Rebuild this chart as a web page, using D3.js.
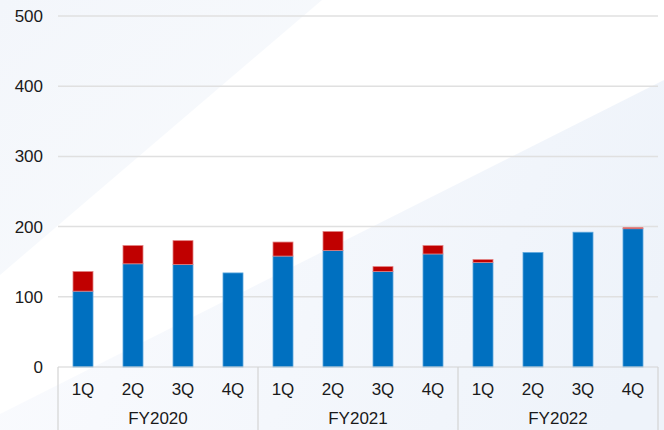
<!DOCTYPE html>
<html>
<head>
<meta charset="utf-8">
<script src="https://cdn.jsdelivr.net/npm/d3@7"></script>
<style>
  body { margin: 0; background: #fff; }
  svg { display: block; font-family: "Liberation Sans", Arial, sans-serif; }
</style>
</head>
<body>
<div id="chart"></div>
<script>
// chart values
const years = ["FY2020", "FY2021", "FY2022"];
const quarters = ["1Q", "2Q", "3Q", "4Q"];
const base = [108, 147, 146, 134, 158, 166, 136, 161, 149, 163, 192, 197];
const extra = [28, 26, 34, 0, 20, 27, 7, 12, 4, 0, 0, 1.5];
const yTicks = [0, 100, 200, 300, 400, 500];

const width = 664, height = 430;
const margin = {left: 58, right: 6, top: 16, bottom: 63};

const svg = d3.select("#chart").append("svg")
  .attr("width", width)
  .attr("height", height);

// soft background shading
const defs = svg.append("defs");
const g1 = defs.append("linearGradient").attr("id", "bgTL")
  .attr("x1", "0").attr("y1", "0").attr("x2", "1").attr("y2", "1");
g1.append("stop").attr("offset", "0").attr("stop-color", "#f3f6fb");
g1.append("stop").attr("offset", "1").attr("stop-color", "#f9fbfd");
const g2 = defs.append("linearGradient").attr("id", "bgBR")
  .attr("x1", "1").attr("y1", "0.6").attr("x2", "0").attr("y2", "0.4");
g2.append("stop").attr("offset", "0").attr("stop-color", "#eef3fa");
g2.append("stop").attr("offset", "1").attr("stop-color", "#fafbfe");

svg.append("path").attr("d", "M0,0 L322,0 L0,275 Z").attr("fill", "url(#bgTL)");
svg.append("path").attr("d", "M664,80 L664,430 L0,430 L0,414 Z").attr("fill", "url(#bgBR)");

const labels = d3.range(base.length);
const x = d3.scaleBand()
  .domain(labels)
  .range([margin.left, width - margin.right])
  .paddingInner(0.6)
  .paddingOuter(0.3);

const y = d3.scaleLinear()
  .domain([0, 500])
  .range([height - margin.bottom, margin.top]);

// gridlines
svg.append("g")
  .selectAll("line")
  .data(yTicks.slice(1))
  .join("line")
  .attr("x1", margin.left)
  .attr("x2", width - margin.right)
  .attr("y1", d => y(d))
  .attr("y2", d => y(d))
  .attr("stroke", "#e0e0e0")
  .attr("stroke-width", 1.5);

// y axis labels
const yAxis = svg.append("g")
  .attr("transform", `translate(${margin.left},0)`)
  .call(d3.axisLeft(y).tickValues(yTicks).tickSize(0).tickPadding(15));
yAxis.select(".domain").remove();
yAxis.selectAll("text")
  .attr("font-size", "17px")
  .attr("font-family", "Liberation Sans, Arial, sans-serif")
  .attr("fill", "#1a1a1a");

// stacked bars
const bars = svg.append("g");
bars.selectAll(".base")
  .data(base)
  .join("rect")
  .attr("class", "base")
  .attr("x", (d, i) => x(i))
  .attr("width", x.bandwidth())
  .attr("y", d => y(d))
  .attr("height", d => y(0) - y(d))
  .attr("fill", "#0070c0")
  .attr("stroke", "#5aa6dc")
  .attr("stroke-width", 0.8);

bars.selectAll(".extra")
  .data(extra)
  .join("rect")
  .attr("class", "extra")
  .attr("x", (d, i) => x(i))
  .attr("width", x.bandwidth())
  .attr("y", (d, i) => y(base[i] + d))
  .attr("height", d => y(0) - y(d))
  .attr("fill", "#c00000")
  .attr("stroke", d => d > 0 ? "#e28080" : "none")
  .attr("stroke-width", 0.8);

// category axis
const y0 = y(0);
svg.append("line")
  .attr("x1", margin.left).attr("x2", width - margin.right)
  .attr("y1", y0).attr("y2", y0)
  .attr("stroke", "#d4d4d4").attr("stroke-width", 1.2);

const groupW = (width - margin.left - margin.right) / years.length;
svg.append("g")
  .selectAll("line")
  .data(d3.range(years.length + 1))
  .join("line")
  .attr("x1", d => margin.left + d * groupW)
  .attr("x2", d => margin.left + d * groupW)
  .attr("y1", y0)
  .attr("y2", height)
  .attr("stroke", "#d4d4d4")
  .attr("stroke-width", 1.2);

svg.append("g")
  .selectAll("text")
  .data(labels)
  .join("text")
  .attr("x", i => x(i) + x.bandwidth() / 2)
  .attr("y", y0 + 28)
  .attr("text-anchor", "middle")
  .attr("font-size", "17px")
  .attr("fill", "#1a1a1a")
  .text(i => quarters[i % quarters.length]);

svg.append("g")
  .selectAll("text")
  .data(years)
  .join("text")
  .attr("x", (d, i) => margin.left + (i + 0.5) * groupW)
  .attr("y", y0 + 57)
  .attr("text-anchor", "middle")
  .attr("font-size", "17px")
  .attr("fill", "#1a1a1a")
  .text(d => d);
</script>
</body>
</html>
